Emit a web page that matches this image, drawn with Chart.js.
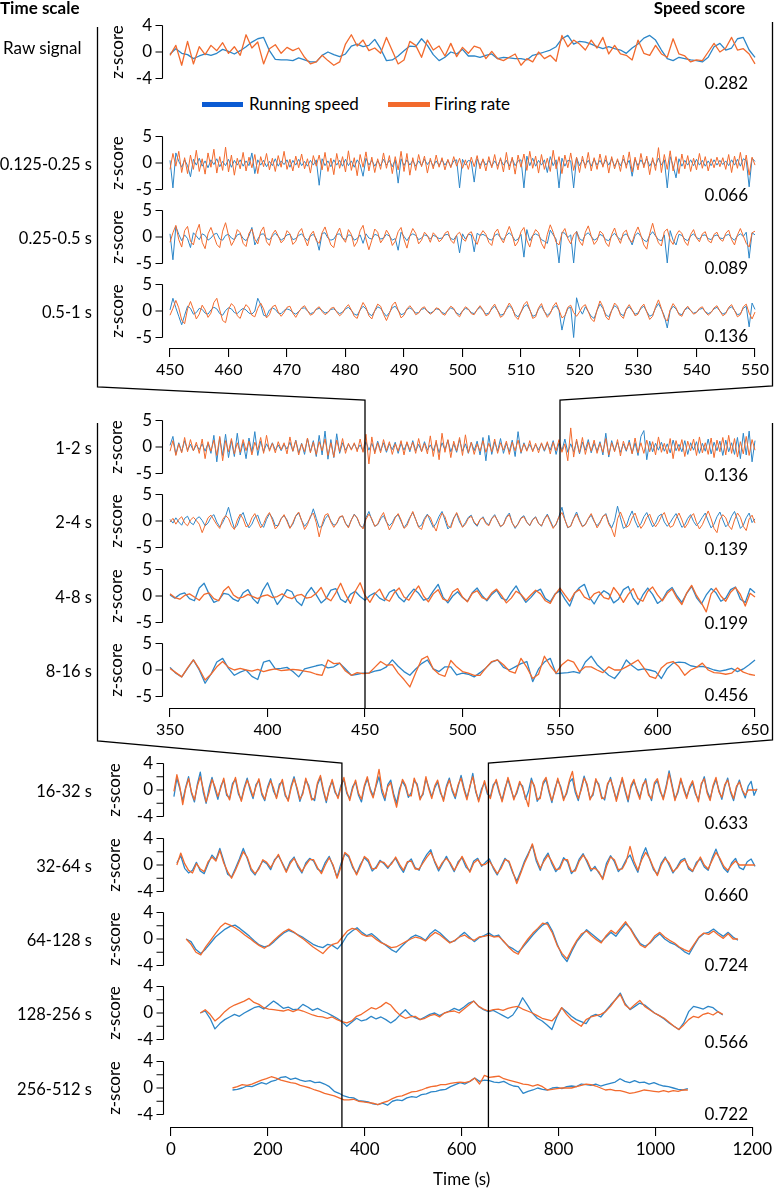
<!DOCTYPE html>
<html><head><meta charset="utf-8">
<script src="https://cdn.jsdelivr.net/npm/chart.js@4.4.1/dist/chart.umd.min.js"></script>
<style>
html,body{margin:0;padding:0;background:#fff;}
body{width:775px;height:1188px;position:relative;overflow:hidden;font-family:Lato,"Open Sans",sans-serif;color:#000;}
canvas{position:absolute;left:0;}
.t{position:absolute;white-space:nowrap;font-size:17px;line-height:20px;transform:translateY(-50%);}
.p{font-size:16.5px;}
.b{font-weight:bold;}
.z{transform:translate(-50%,-50%) rotate(-90deg);}
.lg{position:absolute;height:5px;}
</style></head><body>
<script>
// ===== DATA (z-scores) =====
const panelLabels = ['Raw signal','0.125-0.25 s','0.25-0.5 s','0.5-1 s','1-2 s','2-4 s','4-8 s','8-16 s','16-32 s','32-64 s','64-128 s','128-256 s','256-512 s'];
const speedScores = ['0.282','0.066','0.089','0.136','0.136','0.139','0.199','0.456','0.633','0.660','0.724','0.566','0.722'];
const sampleStart = [450,450,450,450,350,350,350,350,6,12,31,60,127];
const sampleStep  = [1,0.5,0.5,0.5,1.5,1.5,2.5,3,6,8,10,10,10];
const xTickStep = [10,50,200];
const xRanges = [[450,550],[350,650],[0,1200]];

const rawSpeed = [-0.3,0.5,-0.2,-0.4,-1.0,-0.6,-0.3,-0.5,-0.2,0.4,0.1,-0.3,0.2,0.8,1.5,2.0,2.2,0.2,-1.1,-1.2,-1.2,-1.3,-0.9,-1.2,-1.5,-1.5,-0.5,0.0,-0.4,-0.7,-0.3,0.9,1.2,0.8,1.0,1.9,0.5,-1.3,-1.2,-0.6,0.2,0.9,0.8,2.0,1.0,-0.4,-1.3,-0.8,0.0,-0.3,0.4,-0.6,-0.6,-0.8,-0.5,-0.3,-1.0,-0.8,-0.9,-1.0,-1.0,-1.2,-0.5,-0.3,0.0,0.3,0.8,2.0,2.5,1.2,1.6,1.5,1.2,0.8,0.5,0.8,0.5,0.3,-0.2,0.6,1.2,2.1,2.5,1.8,0.3,-1.0,-1.3,-0.8,-1.0,-1.2,-1.3,-1.5,-0.8,0.8,1.3,0.3,0.6,2.0,2.2,0.3,-0.8];
const rawRate = [-0.5,1.0,-2.0,1.6,-1.8,0.8,-0.4,1.0,0.2,1.4,-0.2,0.8,-0.5,2.6,0.6,1.5,-1.8,0.5,1.1,-0.2,0.7,0.2,0.6,-0.8,-1.8,-1.5,-0.5,-1.3,-2.0,-1.5,1.2,2.6,0.9,1.8,0.2,0.6,-0.2,2.2,0.2,-1.8,-1.2,1.6,1.0,-0.8,1.8,0.3,0.9,-0.6,1.3,-0.7,0.7,-0.2,0.9,0.6,-1.0,0.1,-1.0,-1.3,-0.8,-0.3,-2.0,-1.0,-1.5,0.0,-1.0,-0.5,-1.4,2.5,0.8,1.8,1.2,0.3,1.8,0.6,2.2,-0.3,1.0,-0.3,-0.5,-1.2,1.8,-0.2,-0.5,1.0,-0.3,-0.8,2.0,-0.3,-0.6,-1.5,-1.2,-1.3,0.0,1.3,0.0,0.6,2.2,0.3,0.5,-0.3,-1.8];

const speed0125 = [0.5,-4.7,1.9,0.3,-0.8,0.6,-0.5,-2.6,0.7,-0.4,0.9,-0.6,0.4,-0.9,0.6,-0.3,0.8,-0.7,0.3,-0.5,0.7,-0.8,0.5,-0.4,0.6,-0.6,0.4,-0.5,1.9,-2.0,0.6,-0.4,0.5,-0.7,0.3,-0.5,0.8,-0.6,0.4,-0.3,0.6,-0.8,0.5,-0.4,0.7,-0.5,0.3,-0.6,0.5,-0.4,0.6,-4.2,0.8,-0.5,0.4,-0.7,0.6,-0.4,0.5,-0.6,0.7,-0.5,0.4,-0.8,0.6,-0.3,-2.5,0.9,-0.4,0.5,-0.6,0.4,-0.5,0.7,-0.4,0.5,-0.7,0.6,-3.8,0.8,-0.5,0.6,-0.4,0.5,-0.6,0.4,-0.5,0.7,-0.3,0.5,-0.6,0.4,-0.5,0.6,-0.4,0.5,-0.7,0.4,0.6,-4.7,0.7,-0.4,0.5,0.3,-3.6,0.8,-0.5,0.6,-0.4,0.5,-0.6,0.4,-0.5,0.7,-0.4,0.5,-0.6,0.8,-0.5,0.4,0.6,-4.7,1.3,-0.5,0.9,-0.6,0.5,-0.4,0.6,-1.8,1.2,-0.5,0.6,-4.7,0.9,-0.6,0.5,0.4,-4.7,1.0,-0.5,0.6,-0.4,0.5,-0.6,0.7,-0.4,0.5,-0.5,0.6,-0.4,0.8,-0.6,0.5,-0.5,0.7,-0.4,0.5,-2.5,0.7,-0.5,0.6,-0.4,0.8,-0.6,0.5,-0.5,0.9,-0.4,0.6,-4.7,1.2,-0.5,-2.8,0.8,-0.6,0.5,-0.4,0.6,-0.5,0.7,-0.4,0.5,-0.6,0.4,-0.5,0.6,-0.4,0.5,-0.3,0.4,-0.5,0.6,-0.4,0.7,-0.6,0.8,0.5,-4.5,0.9,0.3];
const rate0125 = [-1.2,1.8,-0.6,2.2,-1.8,1.0,-2.0,1.5,-1.2,2.4,-1.6,0.8,-2.1,1.9,-0.8,2.6,-1.9,1.2,-1.4,3.0,-1.7,1.5,-2.3,0.9,-1.1,2.0,-1.5,1.1,-0.9,1.6,-2.0,1.2,-0.7,1.8,-1.3,0.9,-1.6,1.4,-0.8,2.2,-1.2,0.7,-1.5,1.3,-0.9,1.7,-1.1,0.8,-1.9,1.4,-0.6,1.5,-1.3,2.0,-1.6,0.9,-2.2,1.8,-1.0,1.2,-1.7,2.3,-1.4,1.0,-2.4,1.6,-0.8,2.1,-1.5,1.1,-1.8,0.8,-1.2,1.9,-1.0,1.4,-2.0,1.2,-1.3,2.2,-1.6,1.8,-2.3,1.0,-1.4,1.6,-0.7,1.3,-1.9,0.9,-1.1,1.5,-0.8,1.0,-1.3,0.7,-0.9,1.2,-0.6,0.9,-1.0,0.6,-1.2,1.1,-0.7,1.4,-1.1,0.8,-1.5,1.2,-0.9,1.6,-1.2,1.0,-1.7,2.0,-1.3,1.1,-2.1,1.5,-0.8,1.7,-1.4,2.2,-1.0,1.3,-1.9,1.6,-1.2,0.9,-1.6,2.4,-1.1,1.2,-2.0,1.5,-0.9,1.9,-1.4,1.1,-1.8,1.3,-1.0,2.0,-1.5,1.0,-1.2,1.7,-0.8,1.4,-1.9,1.2,-1.1,0.8,-1.6,1.5,-1.0,2.1,-1.7,1.1,-1.3,1.8,-0.9,1.3,-2.2,1.0,-1.4,2.9,-1.8,1.6,-1.2,2.3,-1.5,1.2,-2.0,1.7,-1.1,1.4,-1.6,0.9,-1.3,1.8,-1.0,1.2,-1.5,0.8,-0.9,1.1,-0.7,1.0,-1.2,1.6,-1.8,1.3,-1.0,2.0,-1.4,1.5,-2.3,1.1,-0.4];

const speed025 = [0.6,-4.3,2.0,0.5,-0.7,0.4,-0.3,-2.0,0.8,0.2,-0.5,0.6,0.3,-0.6,-0.2,0.5,0.7,-0.4,-0.6,0.3,0.5,-0.2,-0.5,0.4,0.6,-0.3,-0.7,0.2,1.8,-1.5,-0.4,0.5,0.6,-0.3,-0.5,0.2,0.7,0.1,-0.6,-0.2,0.4,0.5,-0.5,-0.3,0.3,0.6,-0.1,-0.7,0.2,0.5,-0.3,-2.5,0.7,0.8,-0.2,-0.6,-0.4,0.5,0.6,-0.2,-0.5,0.4,0.3,-0.6,-0.3,0.4,-1.2,0.6,-0.2,-0.4,0.5,0.3,-0.4,-0.2,0.5,0.2,-0.6,-0.3,-2.5,0.9,0.1,-0.7,0.2,0.6,0.3,-0.5,-0.2,0.4,0.2,-0.4,0.3,0.1,-0.3,-0.2,0.4,0.5,-0.3,-0.5,0.3,-3.0,0.6,-0.4,0.5,0.4,-2.8,0.7,0.3,0.5,0.2,-0.4,-0.6,0.3,0.6,-0.1,-0.5,0.3,0.8,0.2,-0.7,-0.4,0.5,-3.8,1.4,-0.7,0.3,0.6,0.3,-0.5,-0.8,-1.2,1.3,0.4,-0.4,-4.9,0.9,0.7,-0.1,0.4,-4.9,1.1,-0.3,-0.7,0.4,0.8,0.1,-0.6,-0.3,0.5,0.2,-0.5,-0.7,0.2,0.7,0.0,-0.5,0.3,0.6,-0.2,-1.5,0.3,0.8,0.1,-0.6,-0.9,0.3,1.0,0.2,-0.5,-0.7,0.4,-4.9,1.2,-0.6,-1.5,0.5,0.3,-0.4,-0.7,0.2,0.6,-0.1,-0.4,0.3,0.4,-0.3,-0.5,0.2,0.4,-0.2,-0.3,0.3,0.5,-0.2,-0.6,0.2,0.6,0.1,0.9,-4.0,0.8,0.4];
const rate025 = [-1.0,0.8,2.2,-0.5,-1.9,1.2,2.0,-0.8,-1.5,0.9,2.4,-1.0,-2.2,0.6,1.8,0.2,-1.4,-2.0,1.1,2.7,0.3,-1.6,-0.6,1.4,0.8,-1.2,-1.8,0.7,1.5,-0.4,-1.3,1.0,1.9,-0.9,-1.6,0.5,1.3,0.2,-1.1,-0.5,1.2,0.6,-1.4,-0.8,0.9,1.6,-0.3,-1.7,0.4,1.1,-0.7,-1.2,0.8,1.9,0.1,-1.5,-2.0,0.6,1.7,-0.2,-1.0,1.4,0.5,-1.8,-0.9,1.2,2.2,-0.4,-2.4,-0.6,1.5,0.9,-1.1,-0.3,1.3,0.4,-1.6,-0.8,1.0,1.8,-0.5,-2.1,0.2,1.6,0.7,-1.3,-0.6,0.9,0.3,-1.0,0.8,0.2,-0.9,-0.4,0.7,1.1,-0.6,-1.2,0.4,0.9,-0.3,-0.8,0.6,1.0,-0.5,-1.4,0.3,1.2,0.5,-1.0,-1.6,0.8,1.5,-0.2,-1.1,0.6,2.0,0.4,-1.7,-0.9,1.0,1.8,-0.6,-1.9,0.2,1.4,0.8,-1.2,-2.2,0.5,2.3,0.9,-1.0,-1.5,0.7,1.6,-0.3,-1.3,0.4,1.0,-0.8,-1.6,0.9,2.1,0.2,-1.4,-0.7,1.1,0.6,-1.1,-1.8,0.5,1.7,-0.1,-1.2,0.8,1.3,-0.5,-1.0,0.7,1.9,0.3,-1.5,-2.3,0.6,2.6,0.4,-1.1,-1.7,1.0,1.5,-0.6,-1.4,0.3,1.2,0.7,-0.9,-1.6,0.5,1.4,-0.2,-0.9,0.6,1.0,-0.7,-1.1,0.5,0.9,-0.4,-0.8,0.7,1.3,-0.5,-1.5,0.4,1.6,0.2,-1.2,-1.9,0.8,1.1];

const speed05 = [0.2,2.4,0.6,-1.0,-2.6,-0.8,0.9,0.5,-0.6,-0.3,0.5,0.3,-0.4,-0.6,0.2,0.7,0.4,-0.5,-0.8,0.1,0.6,0.4,-0.3,-0.5,0.1,0.5,0.2,-0.4,-0.6,0.0,2.4,1.2,-0.8,-1.0,0.2,0.6,0.3,-0.4,-0.5,0.1,0.4,0.2,-0.3,-0.6,-0.1,0.5,0.6,0.0,-0.5,-0.3,0.3,0.5,0.1,-0.4,-0.2,0.3,0.4,-0.1,-0.5,-0.2,0.4,0.7,0.1,-0.6,-0.8,0.2,0.9,0.4,-0.5,-0.9,0.0,0.8,0.5,-0.3,-1.0,-0.3,0.6,0.9,0.1,-0.7,-0.5,0.3,0.6,0.2,-0.4,-0.3,0.3,0.5,0.0,-0.4,-0.1,0.4,0.3,-0.3,-0.5,0.1,0.6,0.3,-0.4,-0.7,0.0,0.5,0.3,-0.3,-0.5,0.2,0.7,0.1,-0.6,-0.4,0.4,0.9,0.1,-0.8,-0.6,0.3,1.0,0.4,-0.7,-1.1,-0.2,0.8,1.2,0.2,-1.0,-0.8,0.4,0.9,-0.1,-0.8,-0.3,0.6,1.0,0.1,-3.6,-1.0,0.5,0.7,-5.0,2.5,0.4,-0.6,0.8,-0.1,-1.0,-1.4,0.1,1.3,0.5,-0.7,-1.1,0.1,1.0,0.6,-0.5,-0.9,0.3,0.8,0.1,-0.6,-0.4,0.5,0.9,-0.1,-1.0,-0.7,0.5,1.4,0.3,-0.9,-3.2,0.1,0.9,0.4,-0.5,-0.7,0.2,0.6,0.1,-0.4,-0.2,0.3,0.5,-0.1,-0.5,-0.2,0.4,0.7,0.0,-0.6,-0.3,0.5,0.8,0.1,-0.7,-0.5,0.5,0.9,-3.0,1.5,0.3];
const rate05 = [-0.8,0.5,2.0,0.6,-1.7,-2.4,0.4,1.8,0.3,-1.5,-0.6,1.1,0.2,-1.2,-0.4,1.6,2.4,0.2,-1.8,-2.2,0.3,1.4,0.8,-0.9,-1.4,0.2,1.2,0.6,-0.8,-1.1,0.5,1.5,0.4,-1.3,-0.7,0.8,1.1,-0.2,-1.0,-0.3,0.7,0.9,-0.4,-1.2,-0.2,0.6,1.0,0.1,-0.8,-0.5,0.4,0.8,-0.1,-0.7,-0.3,0.5,0.7,-0.2,-0.9,-0.4,0.6,1.2,0.2,-1.0,-1.4,0.3,1.6,0.7,-0.9,-1.5,0.1,1.3,0.9,-0.6,-1.8,-0.5,1.1,1.7,0.2,-1.3,-0.8,0.4,1.0,0.3,-0.7,-0.4,0.5,0.8,-0.1,-0.6,-0.2,0.6,0.4,-0.5,-0.8,0.2,0.9,0.5,-0.6,-1.1,0.0,0.8,0.4,-0.5,-0.7,0.3,1.0,0.2,-0.9,-0.6,0.6,1.3,0.1,-1.2,-0.8,0.5,1.5,0.6,-1.0,-1.6,-0.2,1.2,1.8,0.3,-1.4,-1.1,0.6,1.4,-0.1,-1.2,-0.5,0.9,1.6,0.2,-1.3,-0.9,0.7,1.1,-0.3,-1.0,-0.2,0.8,1.2,-0.1,-1.5,-2.0,0.2,1.9,0.8,-1.1,-1.7,0.1,1.5,0.9,-0.8,-1.4,0.4,1.2,0.2,-0.9,-0.6,0.7,1.3,-0.2,-1.6,-1.0,0.8,2.1,0.5,-1.3,-1.9,0.2,1.4,0.6,-0.7,-1.0,0.3,0.9,0.1,-0.6,-0.3,0.5,0.8,-0.2,-0.8,-0.3,0.6,1.0,0.0,-0.9,-0.5,0.7,1.2,0.1,-1.1,-0.7,0.8,1.3,-0.4,-1.5,-0.2];

const speed1 = [0.3,2.0,-1.4,0.8,-0.9,1.2,-0.6,0.5,-0.7,0.4,-0.5,0.6,-0.8,0.7,-1.2,2.2,-2.8,1.8,-1.6,2.4,-2.0,1.2,-1.8,2.6,-1.5,0.9,-2.2,1.7,-1.0,2.9,-1.6,1.1,-0.9,0.6,-0.5,0.8,-0.6,0.4,-0.7,0.5,-0.4,0.9,-0.8,1.3,-1.1,0.7,-1.4,1.6,-0.9,1.2,-1.8,2.2,-1.5,3.0,-2.3,1.4,-2.0,2.5,-1.2,0.8,-0.6,0.5,-0.4,0.6,-0.5,0.4,-0.8,1.0,-0.6,0.7,-0.9,1.1,-0.7,0.8,-1.0,0.6,-0.5,0.9,-1.2,0.7,-0.6,0.8,-0.9,1.2,-0.7,0.5,-0.8,1.0,-0.6,0.4,-0.7,0.9,-1.1,0.8,-0.5,1.3,-0.9,0.6,-1.0,1.4,-0.8,0.6,-1.2,0.9,-0.7,1.1,-1.5,1.8,-2.6,2.2,-1.4,1.0,-0.8,1.6,-1.2,0.7,-0.9,1.3,-1.8,2.9,-1.2,0.8,-0.6,0.5,-0.7,0.4,-0.5,0.6,-0.8,0.7,-0.6,1.2,-1.4,0.8,-0.7,1.5,-1.0,0.6,-0.9,1.1,-1.3,0.9,-0.6,1.4,-1.1,0.7,-0.8,1.0,-1.5,2.6,-1.9,1.2,-0.7,0.9,-1.0,0.6,-0.8,1.3,-1.2,0.8,-1.6,2.0,3.1,-2.4,1.1,-0.9,0.7,-0.6,0.9,-0.8,0.6,-1.1,1.3,-0.7,0.5,-0.9,1.2,-1.4,0.8,-0.6,1.0,-1.2,0.7,-0.8,1.5,-1.3,0.9,-0.7,1.1,-1.6,1.3,-0.9,0.8,-1.4,1.8,-2.2,2.6,-1.5,3.0,-2.8,1.2];
const rate1 = [-0.8,1.2,-1.6,0.6,-1.1,1.8,-0.9,1.4,-0.7,0.9,-1.2,1.5,-2.2,1.0,-0.8,1.3,-1.6,2.0,-2.6,1.2,-0.9,1.6,-1.3,0.8,-1.0,1.4,-0.7,1.1,-1.5,0.9,-0.6,1.8,-1.2,2.2,-0.8,0.7,-1.1,1.0,-0.5,0.8,-1.3,1.9,-0.8,1.2,-1.5,0.6,-0.9,1.7,-1.1,0.9,-1.4,1.0,-0.7,1.5,-1.6,0.8,-1.9,1.3,-0.9,1.6,-1.2,0.7,-0.6,0.8,-0.9,1.5,-1.0,2.4,-3.2,1.9,-1.3,0.8,-1.1,1.4,-0.7,1.0,-1.4,0.6,-0.8,1.2,-1.5,1.0,-0.6,0.9,-1.2,1.6,-0.9,0.7,-1.3,2.1,-1.8,1.3,-2.4,2.6,-1.0,1.4,-2.0,1.1,-0.7,1.8,-1.6,2.3,-1.1,0.9,-1.4,0.6,-0.8,1.2,-1.0,0.7,-0.9,1.5,-1.2,0.8,-0.6,1.1,-1.4,0.9,-0.7,1.3,-1.0,0.6,-0.8,1.2,-0.9,0.7,-1.1,0.8,-0.6,1.0,-1.3,0.9,-0.7,1.4,-1.0,0.6,-2.6,3.6,-1.9,1.5,-1.1,1.8,-1.4,0.9,-0.8,1.3,-1.2,0.7,-1.0,1.6,-1.5,0.8,-0.9,1.4,-1.7,1.1,-0.6,0.9,-1.3,1.7,-1.1,0.8,-1.2,1.3,-0.9,1.0,-1.5,1.9,-1.0,0.7,-1.3,1.6,-2.2,1.2,-0.8,1.4,-1.8,1.1,-0.7,1.5,-1.6,1.9,-1.1,0.8,-1.4,1.7,-2.0,1.3,-0.9,1.8,-1.5,2.2,-1.2,1.6,-1.9,1.0,-1.3,2.0,-1.6,1.4,-0.6];

const speed2 = [0.3,-0.4,0.6,-0.2,-0.8,0.5,0.9,-0.3,-0.7,0.4,0.8,0.1,-0.9,-0.4,0.7,1.2,-0.2,-1.1,-0.3,0.9,2.6,0.4,-1.4,-0.8,0.8,1.6,-0.1,-1.3,-0.6,0.7,1.1,-0.5,-1.2,0.3,1.4,0.6,-0.9,-0.8,0.5,1.0,0.2,-1.3,-0.6,0.9,1.5,0.1,-1.0,-0.3,0.6,2.3,0.5,-1.2,-1.0,0.4,1.1,0.0,-0.8,-0.5,0.7,0.9,-0.4,-1.1,0.2,1.3,0.5,-0.9,-1.2,0.6,1.8,0.2,-1.0,-0.7,0.4,1.0,-0.2,-0.9,-0.3,0.8,1.2,-0.1,-1.3,-0.5,0.7,1.6,0.3,-1.1,-0.8,0.5,1.3,0.0,-1.2,-0.4,0.9,1.8,0.2,-1.5,-0.9,0.6,1.4,-0.2,-1.1,-0.3,0.7,1.1,-0.4,-1.0,0.2,0.8,-0.3,-0.7,0.5,1.2,0.0,-1.1,-0.6,0.8,1.5,-0.3,-1.4,-0.5,0.6,1.0,-0.2,-0.9,0.3,0.8,-0.4,-1.0,0.4,1.3,0.1,-1.2,-0.7,0.9,2.6,0.3,-1.3,-0.9,0.5,1.7,0.2,-1.0,-0.6,0.4,1.1,-0.1,-0.9,-0.2,0.8,1.4,-0.3,-1.3,0.1,2.8,0.6,-1.4,-1.0,0.7,1.9,0.0,-1.2,-0.5,0.8,1.6,0.2,-1.1,-0.4,0.9,1.3,-0.2,-1.0,-0.3,0.6,1.4,0.1,-1.2,-0.7,0.5,1.2,-0.1,-0.9,-0.2,0.7,1.5,0.0,-1.3,-0.6,0.8,1.7,0.2,-1.1,-0.5,0.9,1.8,0.3,-1.4,-0.8,0.6,1.5,-0.3,0.4];
const rate2 = [-0.2,0.5,-0.6,0.3,0.8,-0.4,-0.9,0.2,0.7,0.1,-0.6,-2.2,-0.8,0.6,1.1,0.2,-0.7,-1.4,0.3,1.0,0.5,-0.9,-1.6,0.2,1.3,0.4,-1.1,-0.8,0.6,1.4,0.0,-1.3,-0.5,0.8,1.6,0.2,-1.5,-0.9,0.4,1.2,-0.1,-1.4,-0.3,1.0,1.7,0.1,-1.6,-0.7,0.9,1.5,-0.3,-3.0,-0.6,1.1,1.4,-0.2,-1.2,-0.4,0.8,1.0,-0.5,-1.3,0.2,1.2,0.6,-0.8,-1.5,0.3,1.3,0.4,-1.0,-0.6,0.7,1.6,-0.1,-1.7,-0.7,0.6,1.4,0.2,-1.4,-0.9,0.5,1.8,0.3,-1.2,-1.6,0.2,1.1,0.7,-0.8,-1.9,0.1,1.5,0.8,-0.9,-1.3,0.4,1.6,0.3,-1.2,-0.6,0.5,0.9,-0.2,-0.8,0.3,0.6,-0.5,-0.9,0.4,1.0,0.1,-1.0,-0.7,0.6,1.2,-0.4,-1.2,-0.6,0.5,0.8,-0.3,-0.8,0.2,0.7,-0.5,-0.9,0.3,1.1,-0.2,-1.4,-0.5,0.8,1.6,0.2,-1.2,-1.0,0.4,1.3,0.0,-1.1,-0.7,0.5,1.4,0.1,-1.3,-0.4,0.9,1.2,-0.6,-1.5,-3.0,0.4,1.7,0.3,-1.2,-0.8,0.6,1.5,-0.1,-1.4,-0.6,0.7,1.3,-0.2,-1.1,-0.3,0.9,1.6,0.0,-1.2,-0.9,0.5,1.5,0.2,-1.3,-0.5,0.8,1.4,-0.3,-1.5,-0.7,0.6,1.9,0.4,-1.4,-2.2,0.3,1.2,0.6,-0.9,-1.6,0.2,1.5,0.7,-1.0,-1.8,0.4,1.1,-0.4];

const speed4 = [0.2,-0.4,0.3,0.6,-0.5,-0.9,1.5,2.4,0.4,-1.2,-0.8,0.5,0.3,-0.6,-1.0,0.6,1.2,-0.5,-1.4,1.0,2.5,0.3,-1.6,-0.4,1.2,0.8,-1.0,-1.8,0.4,1.6,0.2,-1.3,-0.5,1.1,1.4,-0.6,-1.2,0.3,0.9,-0.1,-0.8,0.1,0.6,-0.4,-0.9,0.7,1.2,-0.3,-1.1,0.2,1.3,0.5,-0.8,-0.5,0.9,2.2,-0.2,-1.3,0.0,0.8,-0.3,-1.0,0.6,1.5,0.1,-0.9,0.3,1.1,-0.4,-0.8,0.7,1.9,0.2,-1.2,-0.3,0.8,1.3,-0.5,-1.1,0.4,1.0,-0.6,-1.9,0.5,1.6,2.2,-0.2,-1.5,0.1,1.0,0.4,-1.3,-0.6,1.2,1.8,-0.4,-1.6,0.2,1.5,0.3,-1.4,-0.7,0.9,1.6,0.0,-1.2,0.5,1.8,-0.3,-1.5,0.2,1.4,0.6,-1.0,-0.4,1.2,1.7,-0.6,-1.2,1.4,0.6];
const rate4 = [0.4,-0.3,-0.6,0.1,0.4,-0.2,-0.8,0.3,0.6,-0.5,-0.9,1.0,1.8,0.2,-0.4,-0.2,0.3,-0.1,-0.5,0.0,0.2,-0.3,-0.1,0.4,-0.2,-0.5,0.1,0.3,-0.4,-0.2,0.5,1.6,-0.3,-0.9,0.6,2.4,0.3,-1.4,0.9,2.5,0.1,-1.2,0.4,1.3,-0.5,-1.0,0.6,1.5,-0.2,-0.8,0.7,1.9,0.0,-1.1,0.4,1.2,-0.6,-0.9,0.8,1.4,-0.2,-1.1,0.5,1.0,-0.3,-0.7,0.6,1.3,0.1,-1.3,-0.4,0.9,0.3,-0.8,0.2,1.1,0.4,-0.9,-1.4,0.3,1.5,0.2,-1.0,0.6,1.2,-0.2,-0.7,0.4,0.8,-0.3,-0.6,1.6,0.4,-1.2,0.3,1.4,-0.5,-1.0,0.9,1.7,0.2,-0.9,0.5,1.3,-0.4,-1.6,0.6,2.0,0.1,-1.3,-3.0,0.4,1.5,0.0,-1.0,0.7,1.6,0.3,-1.9,0.5,-0.2];

const speed8 = [0.5,-0.6,-1.3,0.3,1.9,0.0,-2.5,-0.8,1.5,2.2,0.3,-1.0,-0.4,0.0,-1.2,-1.8,1.5,1.8,0.2,0.3,0.5,-0.3,-1.3,0.2,0.5,0.8,1.0,0.4,0.6,1.3,0.2,-1.0,-0.8,-0.6,-0.6,-0.2,0.0,0.6,1.9,0.7,-0.3,-1.0,0.2,1.2,1.9,0.2,-0.3,0.6,0.6,-0.9,-0.6,-0.8,-1.3,-0.5,0.4,1.5,1.9,0.5,0.0,0.6,1.2,1.6,-2.2,0.2,1.5,2.2,-0.7,-0.6,-0.5,-0.3,-0.6,1.5,2.6,1.0,0.0,-1.0,-1.6,-0.2,1.9,0.8,0.0,0.2,0.0,-0.3,-1.6,0.3,1.3,1.5,1.4,0.8,0.6,0.7,0.4,0.0,-0.2,0.0,0.3,-0.3,0.2,1.0,1.9];
const rate8 = [0.3,-0.5,-1.3,0.4,1.9,0.2,-1.9,-0.8,0.6,1.6,0.5,0.0,0.3,0.0,-0.2,0.1,-0.3,0.0,0.2,-0.1,0.0,0.1,0.0,-0.2,-0.4,-0.8,-1.0,1.9,1.2,1.3,-0.2,-1.0,-0.5,-0.7,-0.6,0.5,1.6,0.9,1.0,-0.6,-1.8,-3.2,-0.5,2.0,2.6,0.2,-0.8,-1.2,1.8,0.6,-0.3,-0.6,-1.0,-1.0,0.4,1.6,1.9,1.0,-0.2,-0.6,2.2,0.5,-1.6,-0.8,2.6,0.8,-0.6,1.0,1.9,1.5,-0.3,0.6,0.6,0.0,-0.5,0.6,0.0,0.0,0.6,1.2,1.9,0.4,-1.2,-1.6,0.4,1.3,1.6,0.6,-1.0,0.0,0.5,1.3,0.0,-0.5,-0.6,-0.8,-0.6,0.4,-0.4,-0.8,-1.0];

const speed16 = [-1.0,1.8,0.2,-1.6,0.4,2.0,-0.5,-1.8,0.9,2.7,-0.3,-2.0,0.3,1.9,0.1,-1.4,0.6,1.5,-0.8,-1.2,1.0,1.6,-0.6,-1.5,0.4,1.8,0.0,-1.3,0.8,1.4,-0.7,-1.6,0.5,1.7,-0.2,-1.1,0.9,1.2,-0.9,-1.5,0.6,2.0,0.1,-1.7,-0.3,1.5,0.7,-1.2,-1.6,0.8,1.9,-0.2,-1.9,0.3,1.3,-0.4,-1.0,0.7,1.6,-0.5,-1.3,0.5,1.2,-0.8,-1.8,0.4,1.7,0.2,-0.9,0.6,2.0,-0.4,-1.6,0.8,1.5,-0.6,-2.0,0.2,1.3,0.5,-1.1,-0.4,1.4,0.9,-1.2,-0.7,1.7,0.4,-1.0,0.3,1.2,-0.5,-1.4,0.6,1.8,-0.2,-1.3,0.5,2.2,0.3,-1.2,0.4,2.5,-0.3,-1.5,0.2,1.1,-0.6,-1.0,0.8,1.3,-0.4,-1.5,0.3,1.6,0.1,-1.2,-0.5,1.0,0.6,-1.4,-0.2,1.8,0.4,-1.7,-1.0,0.9,1.6,-0.3,-1.9,0.2,1.5,0.5,-1.3,-0.6,1.2,1.7,-0.4,-1.6,0.3,2.1,0.6,-1.2,-0.8,1.4,0.9,-1.0,-1.5,0.7,1.9,0.0,-1.4,0.3,1.6,-0.2,-1.8,0.4,1.3,0.1,-1.1,0.5,1.7,-0.5,-1.6,0.8,1.4,-0.3,-1.2,0.6,2.9,0.8,-1.3,-0.4,1.5,0.3,-1.0,0.2,1.1,-0.6,-1.5,0.7,2.0,-0.2,-1.3,0.4,1.6,0.0,-1.4,0.5,1.8,-0.4,-1.6,0.3,1.5,-0.1,-1.2,0.6,1.3,-0.8,0.2];
const rate16 = [-0.2,2.3,0.5,-2.2,0.2,1.7,-0.3,-1.5,0.6,2.0,0.2,-1.8,-0.4,1.6,0.5,-1.0,0.3,1.8,-0.5,-1.5,0.6,1.9,-0.2,-1.7,0.1,1.5,0.4,-1.0,0.5,1.7,-0.4,-1.4,0.2,1.4,0.3,-1.3,0.5,1.6,-0.6,-1.7,0.3,1.7,0.4,-1.4,-0.6,1.8,0.3,-1.5,-1.2,1.1,2.2,0.1,-1.6,0.0,1.6,-0.1,-1.3,0.4,1.9,-0.2,-1.6,0.2,1.5,-0.5,-1.4,0.7,2.0,-0.1,-1.2,0.9,3.1,0.2,-1.2,0.5,1.1,-1.0,-2.6,-0.3,1.6,0.8,-0.8,-0.9,1.8,0.6,-1.5,-0.4,2.0,0.1,-1.3,0.6,1.5,-0.2,-1.7,0.3,1.5,0.1,-1.0,0.8,1.8,0.0,-1.5,0.6,2.0,0.0,-1.8,-0.2,1.4,-0.3,-1.3,0.5,1.6,-0.1,-1.8,0.0,1.9,0.4,-1.5,-0.2,1.3,0.3,-1.1,-2.5,1.4,0.7,-1.4,-1.3,1.2,1.9,0.0,-1.6,-0.2,1.8,0.2,-1.6,-0.3,1.5,2.8,0.1,-1.3,0.0,1.8,0.9,-1.5,-0.5,1.7,0.6,-1.3,-1.2,1.0,1.6,0.3,-1.7,0.0,1.9,0.1,-1.5,0.7,1.6,-0.2,-1.4,0.8,1.4,-0.8,-1.3,1.1,1.7,0.0,-1.5,0.3,2.5,0.5,-1.6,-0.1,1.8,0.0,-1.3,0.5,1.4,-0.3,-1.8,1.0,1.7,-0.5,-1.6,0.7,1.9,-0.3,-1.1,0.8,1.5,-0.1,-1.3,0.6,1.2,0.0,-0.8,0.0,0.0,0.0,0.0];

const speed32 = [0.3,1.4,-0.5,-1.2,-0.8,0.4,-0.9,-1.3,0.2,1.5,0.8,2.5,0.6,-1.4,-1.8,-0.5,0.9,2.5,1.0,-0.8,-1.5,-0.4,0.6,0.2,-0.7,0.8,1.4,0.3,-0.9,0.5,1.2,-0.3,-1.2,0.3,1.0,0.6,-0.6,-1.0,0.4,1.3,-0.2,-1.8,0.2,1.7,1.2,-0.4,-1.3,0.1,1.1,0.5,-0.9,-0.3,0.7,0.2,-0.5,0.4,1.0,-0.2,-1.1,0.3,0.9,-0.4,-0.8,0.6,1.6,2.3,0.4,-0.9,0.2,1.3,0.1,-1.0,0.5,1.1,-0.3,-0.9,0.6,1.0,-0.2,0.4,0.9,-0.5,-1.5,-0.2,1.0,0.4,-1.2,-2.4,-1.0,0.6,1.8,3.0,0.6,-0.8,0.9,1.8,0.2,-1.0,-0.3,1.1,0.5,-1.3,-0.6,0.9,1.7,0.4,-0.9,-0.2,-1.2,-2.0,0.3,1.4,0.5,-1.0,-0.4,0.8,1.5,0.1,-1.1,1.2,2.6,0.9,-0.7,-1.4,0.3,1.2,0.0,-1.2,-0.3,0.7,1.0,-0.6,-1.0,0.4,0.9,-0.3,-0.8,1.0,2.4,0.8,-0.5,-1.1,0.3,1.0,-0.4,-0.7,0.5,0.9,-0.2];
const rate32 = [0.0,1.8,0.2,-0.8,-1.2,0.2,-0.6,-1.0,0.5,1.2,0.6,2.2,0.3,-1.0,-2.0,-0.8,0.6,2.0,1.2,-0.5,-1.3,-0.6,0.8,0.4,-0.4,0.6,1.6,0.2,-1.1,0.2,1.0,0.0,-1.0,0.0,0.8,0.8,-0.4,-1.3,0.0,1.1,0.0,-2.0,-0.3,1.9,1.4,-0.1,-1.5,-0.2,1.3,0.8,-0.6,-0.5,0.5,0.4,-0.3,0.2,1.2,0.1,-0.8,0.5,0.6,-0.6,-0.6,0.3,1.2,1.9,0.6,-0.6,0.4,1.0,0.3,-0.8,0.2,1.3,0.1,-1.1,0.3,0.8,0.0,0.1,0.6,-0.3,-1.3,-0.5,0.8,0.6,-1.0,-2.8,-1.3,0.3,1.6,3.2,1.0,-0.5,0.6,1.5,0.5,-0.7,-0.6,0.8,0.8,-1.0,-0.9,0.6,1.5,0.7,-0.6,-0.5,-1.0,-2.2,-0.2,1.2,0.8,-0.7,-0.6,0.5,2.8,0.6,-0.8,0.8,1.9,1.0,-0.4,-1.6,0.0,1.0,0.3,-1.0,-0.5,0.4,0.8,-0.3,-0.9,0.1,1.2,0.0,-0.6,0.7,1.9,1.0,-0.2,-0.8,0.0,0.6,0.0,0.0,0.0,0.0,0.0];

const speed64 = [0.0,-0.4,-1.6,-2.2,-1.5,-0.6,0.3,0.9,1.5,1.9,2.1,1.6,1.0,0.4,-0.3,-0.9,-1.2,-1.0,-0.4,0.3,0.9,1.3,1.0,0.6,0.2,-0.3,-0.8,-1.1,-1.3,-0.8,-1.0,-1.5,-0.6,0.6,1.2,1.7,1.0,0.5,0.8,0.2,-0.5,-1.0,-1.6,-2.0,-1.2,-0.5,0.2,0.6,0.3,-0.2,0.8,1.4,0.9,0.2,-0.5,-0.3,0.4,1.0,0.3,-0.4,0.2,0.5,0.9,0.4,0.6,-0.4,-1.1,-1.5,-2.0,-1.2,-0.3,0.6,1.4,2.1,2.5,1.2,-0.8,-2.5,-3.4,-1.8,-0.4,0.5,1.4,0.8,0.2,-0.4,0.3,1.0,0.4,1.4,2.3,1.6,0.4,-0.7,-1.1,-0.6,0.2,0.8,0.0,-0.5,-0.8,-1.3,-1.9,-2.3,-1.0,0.2,0.8,1.0,1.5,0.9,0.4,1.0,0.3,-0.2];
const rate64 = [0.0,-0.8,-2.0,-2.4,-1.2,-0.2,0.8,1.8,2.4,2.1,1.7,1.2,0.6,0.1,-0.5,-1.0,-1.4,-0.9,-0.2,0.5,1.1,1.5,1.1,0.5,0.0,-0.6,-1.2,-1.7,-2.2,-1.4,-0.8,-0.6,0.3,1.2,1.6,1.4,0.7,0.4,0.5,-0.1,-0.6,-0.9,-1.3,-1.2,-0.8,-0.4,0.0,0.3,0.1,-0.3,0.4,1.0,0.6,0.0,-0.6,-0.2,0.3,0.6,0.1,-0.2,0.3,0.4,0.6,0.3,0.4,-0.3,-1.2,-1.9,-2.3,-1.0,0.0,0.9,1.6,2.4,2.2,0.9,-1.0,-2.2,-3.0,-1.5,-0.2,0.8,1.2,0.5,-0.1,-0.6,0.5,1.3,0.8,1.7,2.6,1.5,0.2,-0.9,-1.3,-0.5,0.5,1.0,0.3,-0.2,-0.6,-1.2,-1.6,-1.9,-0.8,0.3,0.9,0.7,1.2,0.6,0.1,0.8,0.0,0.0];

const speed128 = [0.0,0.3,-0.8,-2.4,-1.6,-1.0,-0.6,-0.2,-0.5,0.0,0.4,0.8,1.0,0.6,1.2,1.8,1.3,0.7,0.9,0.5,0.6,1.3,0.9,0.4,0.7,0.3,0.0,-0.4,-0.8,-1.3,-2.0,-1.4,-0.8,-1.2,-1.0,-0.5,-0.9,-0.6,-1.0,-1.5,-1.0,-0.2,0.5,-0.3,-0.7,-1.0,-0.6,-0.2,0.0,-0.4,0.0,0.3,0.7,0.4,0.9,1.5,1.8,1.0,0.5,0.2,0.4,0.0,-0.4,-0.8,-0.3,0.8,2.3,1.2,0.0,-0.8,-1.2,-1.8,-2.5,-0.6,0.8,0.2,-0.5,-1.0,-1.3,-1.6,-0.5,-0.2,-0.6,0.3,1.2,2.0,3.0,1.4,0.5,1.0,1.5,1.2,0.6,0.0,-0.4,-0.9,-1.5,-2.0,-2.5,-1.5,0.2,1.0,0.8,0.6,1.0,0.8,0.2,-0.3];
const rate128 = [0.0,0.5,-0.2,-1.2,-0.6,0.2,0.8,1.2,1.5,1.8,2.2,1.6,1.3,0.8,0.6,0.5,0.4,0.3,0.5,0.2,0.5,0.3,0.0,-0.3,-0.5,-0.6,-0.8,-0.6,-1.0,-1.3,-1.5,-1.2,-0.5,-0.2,0.3,0.8,0.6,1.0,1.6,1.2,0.3,-0.4,-0.8,-0.6,-0.5,-1.0,-0.8,-0.4,-0.2,-0.6,0.0,0.2,0.3,0.0,0.6,1.2,1.8,1.0,0.6,0.3,0.5,0.6,0.4,0.7,0.9,1.0,0.6,0.3,0.0,-0.4,-0.8,-1.0,-1.2,-0.4,0.8,-0.2,-1.0,-1.5,-2.0,-1.0,-0.6,-0.4,-0.2,0.2,1.0,2.0,2.8,1.2,0.6,1.3,1.9,1.0,0.5,0.0,-0.4,-0.8,-1.4,-2.0,-2.5,-1.8,-1.0,-0.5,-0.7,-0.2,0.0,-0.3,0.2,-0.2];

const speed256 = [-0.3,-0.2,0.0,0.3,0.2,0.5,0.8,0.6,1.0,1.2,1.6,1.7,1.3,1.5,1.2,1.0,1.1,0.8,0.9,0.6,0.2,-0.5,-0.8,-1.2,-1.4,-1.5,-1.9,-2.0,-2.1,-2.4,-2.5,-2.3,-2.6,-2.0,-1.8,-1.9,-1.5,-1.3,-1.4,-1.0,-0.9,-0.6,-0.5,-0.3,-0.2,0.2,0.5,0.8,0.6,1.0,1.5,1.0,1.2,1.1,0.9,0.8,1.0,0.6,0.3,0.2,-0.8,-0.5,-0.3,0.0,-0.2,-0.3,0.0,0.1,-0.1,0.2,0.3,0.2,0.6,0.5,0.4,0.6,0.3,0.5,0.7,0.9,1.4,1.0,0.8,1.1,0.8,0.9,0.6,0.8,0.5,0.3,0.2,0.0,-0.2,-0.3,-0.1];
const rate256 = [0.0,0.2,0.5,0.4,0.6,0.9,1.2,1.4,1.7,1.5,1.2,1.0,0.8,0.7,0.4,0.2,0.0,-0.3,-0.5,-0.8,-1.0,-1.2,-1.5,-1.8,-1.8,-1.7,-2.0,-2.1,-2.2,-2.3,-2.5,-2.2,-2.0,-1.6,-1.3,-1.2,-0.9,-0.6,-0.5,-0.3,0.0,0.2,0.3,0.5,0.5,0.7,0.8,0.9,0.8,1.0,1.5,0.6,1.9,1.6,1.7,1.8,1.4,1.2,1.0,0.8,0.6,0.5,0.3,0.5,0.2,-0.3,-0.2,-0.1,0.0,0.0,0.0,0.2,0.4,0.6,0.5,0.3,0.0,-0.3,-0.2,-0.4,-0.4,-0.6,-0.8,-0.7,-0.5,-0.3,-0.4,-0.5,-0.6,-0.4,-0.6,-0.4,-0.5,-0.3,-0.3];

const speedSeries = [rawSpeed,speed0125,speed025,speed05,speed1,speed2,speed4,speed8,speed16,speed32,speed64,speed128,speed256];
const rateSeries  = [rawRate,rate0125,rate025,rate05,rate1,rate2,rate4,rate8,rate16,rate32,rate64,rate128,rate256];

// ===== LAYOUT / STYLE =====
const BLUE = '#2c86c8', ORANGE = '#f26a2d';
const FONT = 'Lato, "Open Sans", sans-serif';
const HALF = 26.5, PAD = 13.5;
const groups = [
  {left:170, right:755, axis:349, xh:34, fs:16},
  {left:170, right:755, axis:709, xh:34, fs:16},
  {left:171, right:757, axis:1128, xh:62, fs:17, title:'Time (s)'}
];
const layout = [
  {g:0, zero:52,  yMax:4, lw:1.3, so:31, zx:117},
  {g:0, zero:163, yMax:5, lw:1.0, so:32, zx:117},
  {g:0, zero:237, yMax:5, lw:1.0, so:31, zx:117},
  {g:0, zero:311, yMax:5, lw:1.0, so:25, zx:117},
  {g:1, zero:447, yMax:5, lw:1.0, so:28, zx:116},
  {g:1, zero:521, yMax:5, lw:1.0, so:28, zx:116},
  {g:1, zero:596, yMax:5, lw:1.3, so:27, zx:116},
  {g:1, zero:670, yMax:5, lw:1.3, so:25, zx:116},
  {g:2, zero:790, yMax:4, lw:1.3, so:33, zx:114, minor:true},
  {g:2, zero:865, yMax:4, lw:1.3, so:30, zx:114, minor:true},
  {g:2, zero:939, yMax:4, lw:1.3, so:26, zx:114, minor:true},
  {g:2, zero:1013,yMax:4, lw:1.3, so:29, zx:114, minor:true},
  {g:2, zero:1088,yMax:4, lw:1.3, so:26, zx:114, minor:true}
];

function addText(txt, cls, css) {
  const d = document.createElement('div');
  d.className = cls; d.textContent = txt;
  Object.assign(d.style, css);
  document.body.appendChild(d);
  return d;
}

function yAxisPlugin(tickVals, yMax) {
  return {
    id: 'yaxisline',
    afterDraw(chart) {
      const ys = chart.scales.y, ctx = chart.ctx;
      const x = Math.round(chart.chartArea.left - 8) + 0.5;
      ctx.save();
      ctx.strokeStyle = '#000'; ctx.lineWidth = 1.1;
      ctx.beginPath();
      ctx.moveTo(x, ys.getPixelForValue(yMax));
      ctx.lineTo(x, ys.getPixelForValue(-yMax));
      tickVals.forEach(v => { const y = ys.getPixelForValue(v); ctx.moveTo(x - 7, y); ctx.lineTo(x, y); });
      ctx.stroke();
      ctx.restore();
    }
  };
}

const charts = layout.map((p, k) => {
  const g = groups[p.g];
  const last = (k === layout.length - 1) || layout[k + 1].g !== p.g;
  const top = p.zero - HALF - PAD;
  const ppu = HALF / p.yMax;
  const bottomPx = last ? g.axis : p.zero + HALF;
  const h = last ? (g.axis - top + g.xh) : (2 * HALF + 2 * PAD);
  const yMin = -(bottomPx - p.zero) / ppu;
  const tickVals = p.minor ? [-4, -2, 0, 2, 4] : [-p.yMax, 0, p.yMax];
  const labelVals = [-p.yMax, 0, p.yMax];
  const cv = document.createElement('canvas');
  cv.width = 775; cv.height = Math.ceil(h);
  cv.style.top = top + 'px';
  document.body.appendChild(cv);
  const pts = arr => arr.map((v, i) => ({x: sampleStart[k] + i * sampleStep[k], y: v}));
  const xr = xRanges[p.g];
  const xOpts = {
    type: 'linear', min: xr[0], max: xr[1], display: last,
    grid: {drawOnChartArea: false, drawTicks: true, tickLength: 8, color: '#000', lineWidth: 1.1},
    border: {display: true, color: '#000', width: 1.1},
    ticks: {stepSize: xTickStep[p.g], autoSkip: false, maxRotation: 0, color: '#000', padding: 3,
            font: {family: FONT, size: g.fs}, callback: v => String(v)},
    title: {display: !!g.title, text: g.title || '', color: '#000', font: {family: FONT, size: 17}, padding: {top: 0, bottom: 0}}
  };
  if (last) xOpts.afterFit = s => { s.height = g.xh; };
  return new Chart(cv, {
    type: 'line',
    data: {datasets: [
      {label: 'Firing rate', data: pts(rateSeries[k]), borderColor: ORANGE, borderWidth: p.lw, pointRadius: 0, tension: 0, clip: false, borderJoinStyle: 'round'},
      {label: 'Running speed', data: pts(speedSeries[k]), borderColor: BLUE, borderWidth: p.lw, pointRadius: 0, tension: 0, clip: false, borderJoinStyle: 'round'}
    ]},
    options: {
      responsive: false, animation: false, events: [],
      layout: {padding: {left: 0, right: 775 - g.right, top: PAD, bottom: last ? 0 : PAD}},
      plugins: {legend: {display: false}, tooltip: {enabled: false}},
      scales: {
        x: xOpts,
        y: {
          min: yMin, max: p.yMax,
          afterFit: s => { s.width = g.left; },
          afterBuildTicks: s => { s.ticks = tickVals.map(v => ({value: v})); },
          grid: {drawOnChartArea: false, drawTicks: true, tickLength: 15, color: 'rgba(0,0,0,0)'},
          border: {display: false},
          ticks: {padding: 3, color: '#000', font: {family: FONT, size: 17},
                  callback: v => labelVals.includes(v) ? String(v) : ''}
        }
      }
    },
    plugins: [yAxisPlugin(tickVals, p.yMax)]
  });
});

// ===== TEXT =====
addText('Time scale', 't b', {left: '0px', top: '8px'});
addText('Speed score', 't b', {right: '30px', top: '8px'});
layout.forEach((p, k) => {
  if (k === 0) addText(panelLabels[k], 't', {left: '3px', top: '48px'});
  else addText(panelLabels[k], 't p', {right: (775 - 92) + 'px', top: (p.zero + 1) + 'px'});
  addText('z-score', 't z', {left: p.zx + 'px', top: p.zero + 'px'});
  addText(speedScores[k], 't', {right: '27px', top: (p.zero + p.so) + 'px'});
});
// legend
const lb = document.createElement('div'); lb.className = 'lg';
Object.assign(lb.style, {left: '202px', top: '102px', width: '41px', background: '#0b5bd3'}); document.body.appendChild(lb);
addText('Running speed', 't', {left: '249px', top: '104px'});
const lo = document.createElement('div'); lo.className = 'lg';
Object.assign(lo.style, {left: '388px', top: '102px', width: '42px', background: '#f26a2d'}); document.body.appendChild(lo);
addText('Firing rate', 't', {left: '434px', top: '104px'});

// ===== ZOOM BRACKETS (positions from the chart x scales) =====
const ov = document.createElement('canvas');
ov.width = 775; ov.height = 1188;
Object.assign(ov.style, {top: '0px', zIndex: 5, pointerEvents: 'none'});
document.body.appendChild(ov);
const c = ov.getContext('2d');
const midX = v => charts[4].scales.x.getPixelForValue(v);
const botX = v => charts[8].scales.x.getPixelForValue(v);
c.strokeStyle = '#000'; c.lineWidth = 1.3; c.lineJoin = 'miter';
c.beginPath();
c.moveTo(97.5, 27); c.lineTo(97.5, 387); c.lineTo(midX(450), 400); c.lineTo(midX(450), groups[1].axis);
c.moveTo(772.5, 22); c.lineTo(772.5, 386); c.lineTo(midX(550), 400); c.lineTo(midX(550), groups[1].axis);
c.moveTo(97.5, 423); c.lineTo(97.5, 741); c.lineTo(botX(350), 763); c.lineTo(botX(350), groups[2].axis);
c.moveTo(772.5, 423); c.lineTo(772.5, 740); c.lineTo(botX(650), 763); c.lineTo(botX(650), groups[2].axis);
c.stroke();
</script>
</body></html>
